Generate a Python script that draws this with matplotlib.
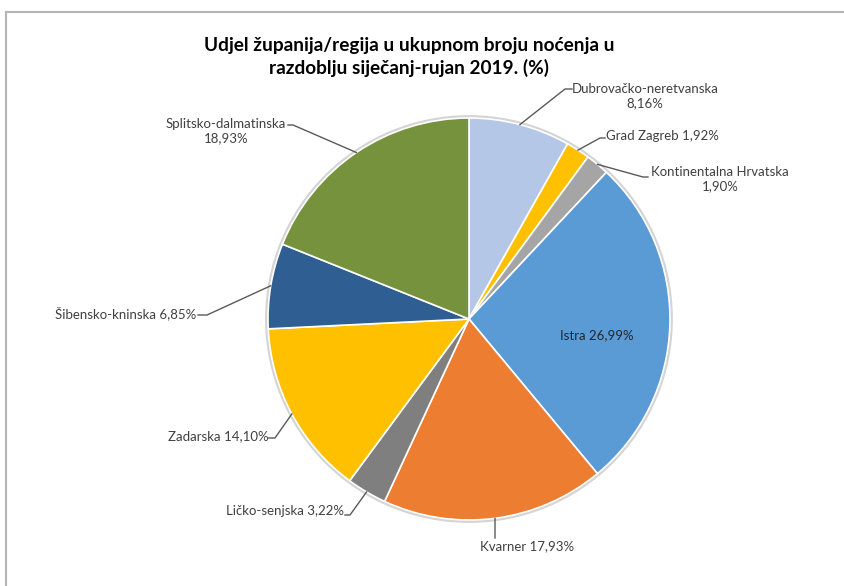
import matplotlib.pyplot as plt
import numpy as np

W, H = 845, 586

title = 'Udjel županija/regija u ukupnom broju noćenja u\nrazdoblju siječanj-rujan 2019. (%)'
regions = ['Dubrovačko-neretvanska', 'Grad Zagreb', 'Kontinentalna Hrvatska', 'Istra',
           'Kvarner', 'Ličko-senjska', 'Zadarska', 'Šibensko-kninska', 'Splitsko-dalmatinska']
shares = [8.16, 1.92, 1.90, 26.99, 17.93, 3.22, 14.10, 6.85, 18.93]
two_line = [True, False, True, False, False, False, False, False, True]
colors = ['#B4C7E7', '#FFC000', '#A5A5A5', '#5B9BD5', '#ED7D31',
          '#7F7F7F', '#FFC000', '#2E5E92', '#76923C']

# layout in pixels (from top-left): text centre, leader elbow, leader end
text_px = [(645, 96), (662, 136), (720, 179), (597, 335), (527, 546),
           (285, 511), (218, 436), (126, 313), (226, 131)]
elbow_px = [(565, 89), (600, 138), (643, 177), None, (495, 538),
            (350, 515), (275, 438), (207, 315), (293, 125)]
end_px = [(572, 89), (605, 138), (648, 177), None, (495, 538),
          (345, 515), (268, 438), (198, 315), (288, 125)]

cx, cy, r = 469, 319, 201

plt.rcParams['font.family'] = ['Lato', 'DejaVu Sans']

fig = plt.figure(figsize=(W / 100, H / 100), dpi=100)
ax = fig.add_axes([0, 0, 1, 1])

wedges, _ = ax.pie(shares, colors=colors, startangle=90, counterclock=False,
                   center=(cx, H - cy), radius=r,
                   wedgeprops=dict(edgecolor='white', linewidth=1.2))
ax.add_patch(plt.Circle((cx, H - cy), r + 1.5, fill=False, edgecolor='#d4d4d4', lw=2, zorder=0))

for k, w in enumerate(wedges):
    lab = regions[k] + ('\n' if two_line[k] else ' ') + f'{shares[k]:.2f}'.replace('.', ',') + '%'
    tx, ty = text_px[k]
    col = '#262626' if elbow_px[k] is None else '#404040'
    ax.text(tx, H - ty, lab, ha='center', va='center', multialignment='center',
            fontsize=9.5, color=col, linespacing=1.25)
    if elbow_px[k] is None:
        continue
    mid = np.deg2rad((w.theta1 + w.theta2) / 2)
    sx, sy = cx + r * np.cos(mid), (H - cy) + r * np.sin(mid)
    ex, ey = elbow_px[k]
    fx, fy = end_px[k]
    ax.plot([sx, ex, fx], [sy, H - ey, H - fy], color='#595959', lw=1, zorder=3)

ax.text(409, H - 57, title, ha='center', va='center', fontsize=13.7, fontweight='bold',
        color='black', linespacing=1.3)

# chart frame (top and left edges visible)
ax.plot([6, W], [H - 12, H - 12], color='#b4b4b4', lw=1.5, clip_on=False)
ax.plot([6, 6], [H - 12, 0], color='#b4b4b4', lw=1.5, clip_on=False)

ax.set_xlim(0, W)
ax.set_ylim(0, H)
ax.set_aspect('equal')
ax.axis('off')

fig.savefig('out.png', dpi=100)
